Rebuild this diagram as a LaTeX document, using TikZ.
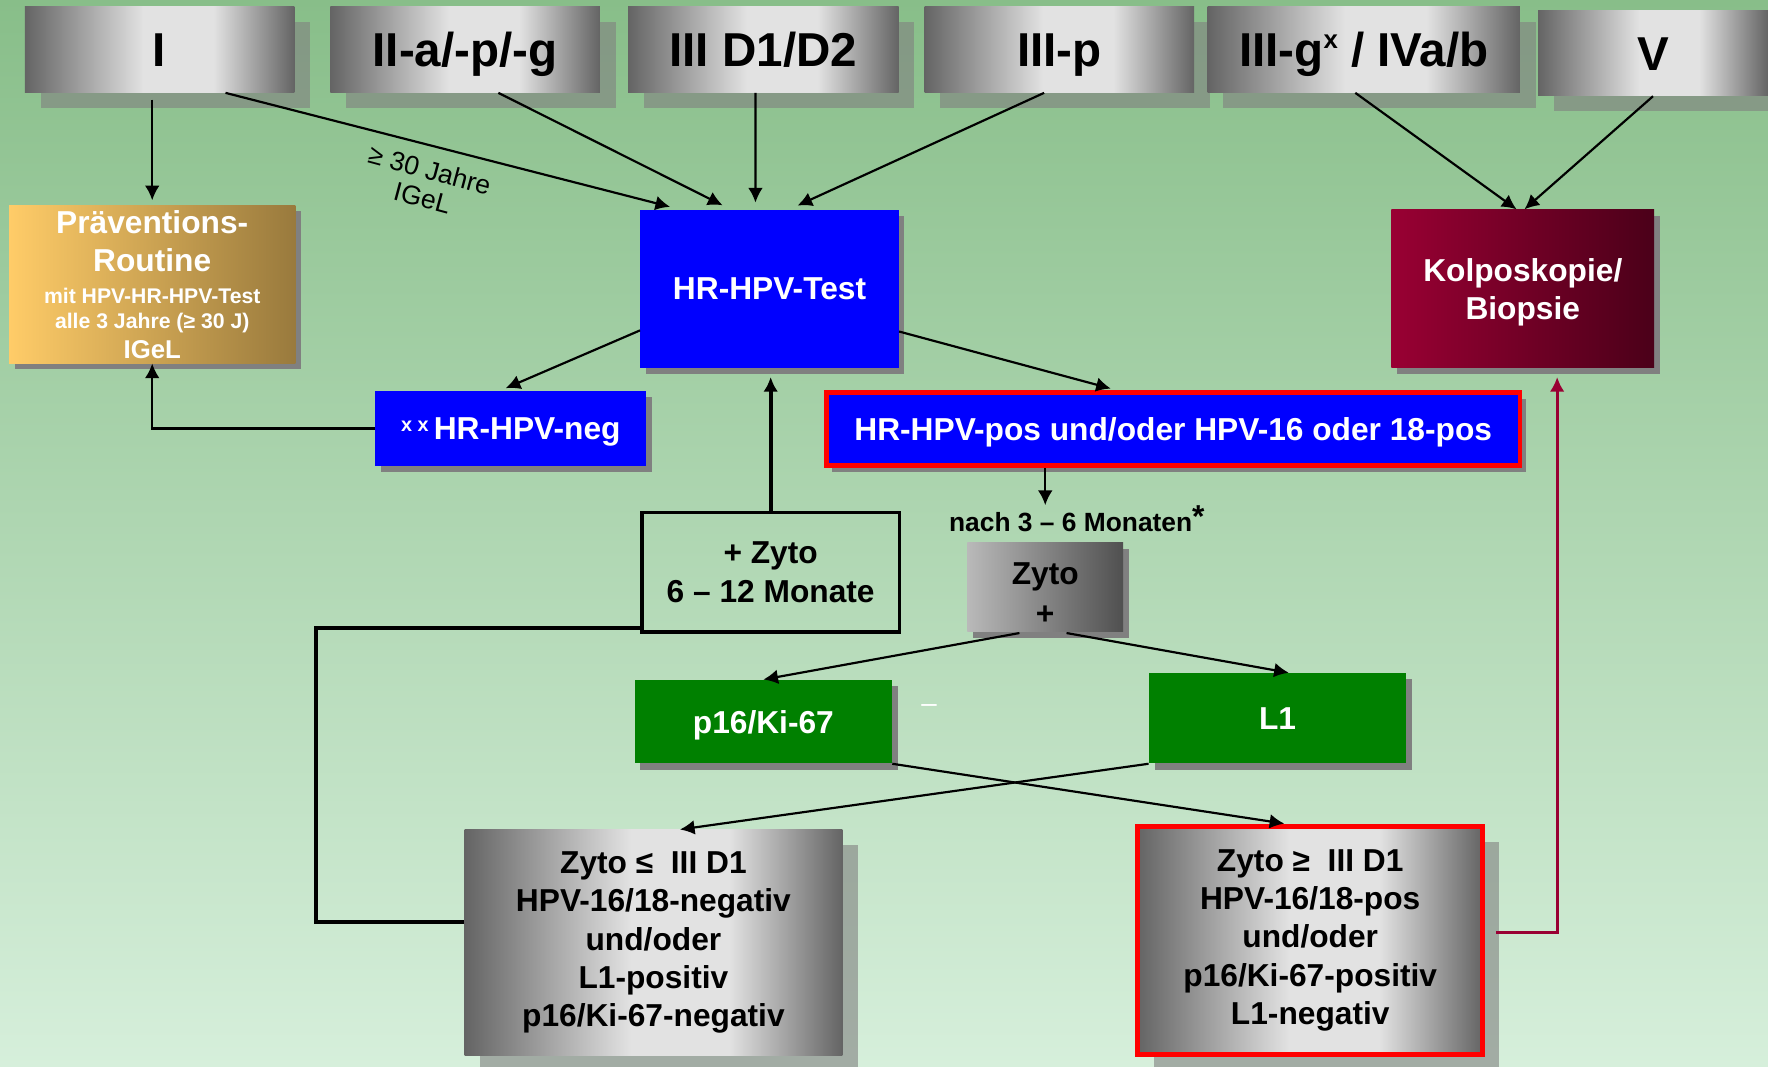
\documentclass[tikz,border=0pt]{standalone}
\usepackage{fontspec}
\setmainfont{Liberation Sans}
\usetikzlibrary{arrows.meta,shadows}

\definecolor{hgoben}{RGB}{136,190,137}
\definecolor{hgunten}{RGB}{214,239,219}
\definecolor{mdunkel}{RGB}{100,100,100}
\definecolor{mhell}{RGB}{226,226,226}
\definecolor{hpvblau}{RGB}{0,0,255}
\definecolor{markgruen}{RGB}{0,128,0}
\definecolor{weinrot}{RGB}{153,0,51}
\definecolor{weindunkel}{RGB}{75,0,25}
\definecolor{orangehell}{RGB}{255,204,104}
\definecolor{orangedunkel}{RGB}{153,122,61}
\definecolor{zytohell}{RGB}{185,185,185}
\definecolor{zytodunkel}{RGB}{80,80,80}

\pgfdeclarehorizontalshading{metall}{100bp}{color(0bp)=(mdunkel); color(25bp)=(mdunkel); color(47bp)=(mhell); color(60bp)=(mhell); color(75bp)=(mdunkel); color(100bp)=(mdunkel)}

\tikzset{
  kasten/.style 2 args={minimum width=#1*0.2mm, minimum height=#2*0.2mm, inner sep=0pt, align=center},
  schrift/.style={font=\fontsize{16}{19.3}\selectfont\bfseries},
  grossschatten/.style={drop shadow={shadow xshift=2.8mm, shadow yshift=-2.7mm, fill=gray, opacity=.6}},
  kleinschatten/.style={drop shadow={shadow xshift=1mm, shadow yshift=-1.1mm, fill=gray, opacity=1}},
  oben/.style={shading=metall, font=\fontsize{24}{29}\selectfont\bfseries, text height=17.5pt, text depth=0pt, grossschatten},
  blau/.style={fill=hpvblau, text=white, schrift, text depth=0pt, kleinschatten},
  gruen/.style={fill=markgruen, text=white, schrift, text depth=0pt, kleinschatten},
  pfeil/.style={-{Latex[length=2.6mm,width=2.6mm]}, line width=1.1pt}
}

\begin{document}
\begin{tikzpicture}[x=0.2mm,y=-0.2mm]

  \useasboundingbox (0,0) rectangle (1568,946);
  \shade[top color=hgoben, bottom color=hgunten] (0,0) rectangle (1568,946); % Hintergrund

  % Befundgruppen oben
  \node[oben, kasten={239}{76}] (gI) at (141.5,44) {I};
  \node[oben, kasten={239}{76}] (gII) at (412.5,44) {II-a/-p/-g};
  \node[oben, kasten={240}{76}] (gIII) at (677,44) {III D1/D2};
  \node[oben, kasten={239}{76}] (gIIIp) at (939.5,44) {III-p};
  \node[oben, kasten={277}{76}] (gIV) at (1209.5,44) {III-g\raisebox{.75ex}{\fontsize{13}{13}\selectfont x} / IVa/b};
  \node[oben, kasten={204}{76}] (gV) at (1466,47) {V};

  \node[kasten={254}{140}, left color=orangehell, right color=orangedunkel, text=white, schrift, kleinschatten] (prae) at (135,252)
    {Präventions-\\Routine\\[-2.8pt]\fontsize{10.7}{12}\selectfont mit HPV-HR-HPV-Test\\[-6.8pt]\fontsize{10.7}{12}\selectfont alle 3 Jahre (≥ 30 J)\\[-4.5pt]\fontsize{13}{15}\selectfont IGeL};
  \node[blau, kasten={229}{140}] (test) at (682.5,256) {HR-HPV-Test};
  \node[kasten={233}{140}, left color=weinrot, middle color=weinrot!85!black, right color=weindunkel, text=white, schrift, text depth=0pt, kleinschatten] (kolpo) at (1350.5,256) {Kolposkopie/\\Biopsie};

  \node[blau, kasten={240}{66}] (neg) at (453,380) {\raisebox{.45ex}{\fontsize{10}{10}\selectfont x x}\,HR-HPV-neg};
  \node[blau, kasten={615}{65}, draw=red, line width=2.4pt] (pos) at (1040.5,380.5) {HR-HPV-pos und/oder HPV-16 oder 18-pos};

  \node[kasten={228}{106}, draw=black, line width=1.7pt, schrift] (kontr) at (683.5,507.5) {+ Zyto\\6 – 12 Monate};
  \node[inner sep=0pt, font=\fontsize{13.3}{15}\selectfont\bfseries] (nach) at (955,460) {nach 3 – 6 Monaten\raisebox{.3ex}{\fontsize{16}{16}\selectfont*}};
  \node[kasten={138}{79}, left color=zytohell, right color=zytodunkel, schrift, text height=38pt, text depth=0pt, kleinschatten] (zyto) at (927,520.5) {Zyto\\[1pt]+};

  \node[gruen, kasten={228}{74}] (p16) at (677,640) {p16/Ki-67};
  \node[gruen, kasten={228}{80}] (L1) at (1133,637) {L1};
  \node[text=white, inner sep=0pt, font=\fontsize{14}{14}\selectfont] (strich) at (824,628) {–};

  \node[shading=metall, kasten={335}{200}, schrift, grossschatten] (tief) at (579.5,836)
    {Zyto ≤~ III D1\\HPV-16/18-negativ\\und/oder\\L1-positiv\\p16/Ki-67-negativ};
  \node[shading=metall, kasten={306}{202}, draw=red, line width=2.4pt, schrift, grossschatten] (hoch) at (1162,834)
    {Zyto ≥~ III D1\\HPV-16/18-pos\\und/oder\\p16/Ki-67-positiv\\L1-negativ};

  \node[rotate=-15, align=center, font=\fontsize{13.4}{14.5}\selectfont] (alter) at (378,163) {≥ 30 Jahre\\IGeL};

  % Pfeile
  \draw[pfeil, shorten <=1.2mm, shorten >=0.8mm] (prae.north |- gI.south) -- (prae.north);
  \draw[pfeil, shorten >=1.8mm] ([xshift=11.7mm]gI.south) -- ([xshift=-15.9mm]test.north);
  \draw[pfeil, shorten >=1.6mm] ([xshift=5.9mm]gII.south) -- ([xshift=-6.9mm]test.north);
  \draw[pfeil, shorten >=1.2mm] ([xshift=-1.4mm]gIII.south) -- ([xshift=-2.5mm]test.north);
  \draw[pfeil, shorten >=1.6mm] ([xshift=-2.7mm]gIIIp.south) -- ([xshift=3.5mm]test.north);
  \draw[pfeil] ([xshift=-1.5mm]gIV.south) -- ([xshift=-1.1mm]kolpo.north);
  \draw[pfeil] (gV.south) -- ([xshift=0.3mm]kolpo.north);

  \draw[pfeil, shorten >=1.2mm] ([yshift=-7.4mm]test.west) -- ([xshift=-2mm]neg.north);
  \draw[pfeil] (neg.west) -| (prae.south);
  \draw[pfeil, shorten >=1mm] ([yshift=-7.6mm]test.east) -- ([xshift=-10.1mm]pos.north);
  \draw[pfeil] (zyto.north |- pos.south) -- (zyto.north |- nach.north);
  \draw[pfeil, line width=2pt, shorten >=1.6mm] (kontr.north) -- (kontr.north |- test.south);

  \draw[pfeil, shorten <=1.2mm] ([xshift=-3.4mm]zyto.south) -- (p16.north);
  \draw[pfeil, shorten <=1.2mm] ([xshift=2.6mm]zyto.south) -- ([xshift=2mm]L1.north);
  \draw[pfeil, shorten >=0.6mm] (p16.south east) -- ([xshift=-4mm]hoch.north);
  \draw[pfeil] (L1.south west) -- ([xshift=4.7mm]tief.north);

  \draw[line width=2pt] ([yshift=3.6mm]tief.west) -- ++(-131,0) |- ([yshift=1mm]kontr.south west); % zurueck
  \draw[pfeil, weinrot, line width=1.4pt, shorten <=2mm, shorten >=1.6mm] ([yshift=1.4mm]hoch.east) -| ([xshift=6.1mm]kolpo.south);

\end{tikzpicture}
\end{document}
